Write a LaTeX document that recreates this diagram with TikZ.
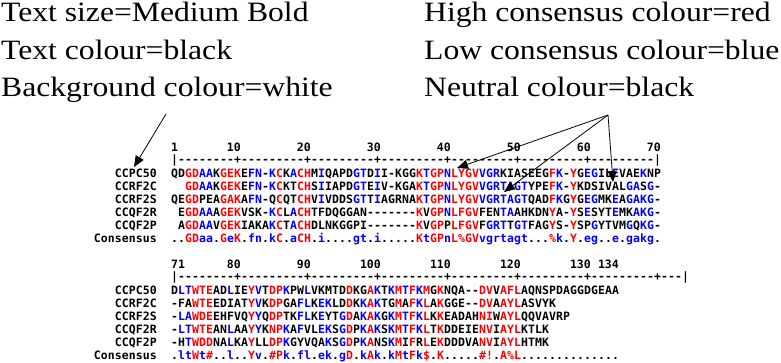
\documentclass[tikz,border=0pt]{standalone}
\usepackage{fontspec}
\usetikzlibrary{arrows.meta}
\newfontfamily\alnfont{DejaVu Sans Mono}
\newfontfamily\hdrfont{Liberation Serif}[FakeStretch=1.13]
\definecolor{alnred}{RGB}{255,0,0}
\definecolor{alnblue}{RGB}{0,0,255}
\ExplSyntaxOn
\dim_new:N \l_aln_w_dim
\dim_set:Nn \l_aln_w_dim {7pt}
\tl_new:N \l_aln_col_tl
\tl_new:N \l_aln_a_tl
\tl_new:N \l_aln_b_tl
\tl_new:N \l_aln_o_tl
\cs_new_protected:Npn \aln_setred: { \tl_set:Nn \l_aln_col_tl {alnred} }
\cs_new_protected:Npn \aln_char:nnn #1 #2 #3
  {
    \tl_set:Nn \l_aln_col_tl {black}
    \int_compare:nNnTF {`#1} = {`#2}
      { \aln_setred: }
      {
        \int_compare:nNnT {`#1 - 32} = {`#2}
          { \int_compare:nNnT {`#1} > {96} { \tl_set:Nn \l_aln_col_tl {alnblue} } }
      }
    \str_case:nn {#1}
      {
        {1} { \str_case:nn {#2} { {I}{\aln_setred:} {V}{\aln_setred:} } }
        {2} { \str_case:nn {#2} { {L}{\aln_setred:} {M}{\aln_setred:} } }
        {3} { \str_case:nn {#2} { {F}{\aln_setred:} {Y}{\aln_setred:} } }
        {4} { \str_case:nn {#2} { {N}{\aln_setred:} {D}{\aln_setred:} {Q}{\aln_setred:} {E}{\aln_setred:} {B}{\aln_setred:} {Z}{\aln_setred:} } }
      }
    \str_case:nn {#3}
      {
        {r} { \aln_setred: }
        {b} { \tl_set:Nn \l_aln_col_tl {alnblue} }
        {k} { \tl_set:Nn \l_aln_col_tl {black} }
      }
    \hbox_to_wd:nn \l_aln_w_dim
      { \hss \str_if_eq:nnF {#2}{_} { \color{\l_aln_col_tl} #2 } \hss }
  }
\cs_generate_variant:Nn \aln_char:nnn {VVV}
\cs_new_protected:Npn \aln_row:nnn #1 #2 #3
  {
    \int_step_inline:nn { \tl_count:n {#2} }
      {
        \tl_set:Nx \l_aln_a_tl { \tl_item:nn {#1} {##1} }
        \tl_set:Nx \l_aln_b_tl { \tl_item:nn {#2} {##1} }
        \tl_set:Nx \l_aln_o_tl { \tl_item:nn {#3} {##1} }
        \aln_char:VVV \l_aln_a_tl \l_aln_b_tl \l_aln_o_tl
      }
  }
\cs_new_protected:Npn \aln_conschar:n #1
  {
    \str_case:nnF {#1}
      {
        {1} { \color{alnred} ! }
        {2} { \color{alnred} \$ }
        {3} { \color{alnred} \% }
        {4} { \color{alnred} \# }
        {.} { . }
      }
      {
        \int_compare:nNnTF {`#1} > {96} { \color{alnblue} #1 } { \color{alnred} #1 }
      }
  }
\cs_new_protected:Npn \aln_cons:n #1
  { \tl_map_inline:nn {#1} { \hbox_to_wd:nn \l_aln_w_dim { \hss \aln_conschar:n {##1} \hss } } }
\cs_new_protected:Npn \aln_plain:n #1
  { \tl_map_inline:nn {#1} { \hbox_to_wd:nn \l_aln_w_dim { \hss ##1 \hss } } }
\NewDocumentCommand \alnrow { m m m } { \exp_args:No \aln_row:nnn {#1} {#2} {#3} }
\NewDocumentCommand \alncons { m } { \exp_args:No \aln_cons:n {#1} }
\NewDocumentCommand \alnplain { m } { \exp_args:No \aln_plain:n {#1} }
\ExplSyntaxOff
\def\consA{..GDaa.GeK.fn.kC.aCH.i....gt.i.....KtGPnL3GVvgrtagt...3k.Y.eg..e.gakg.}
\def\consB{.ltWt4..l..Yv.4Pk.fl.ek.gD.kAk.kMtFk2.K.....41.A3L..............}
\tikzset{
  hdr/.style={font=\hdrfont\fontsize{28}{30}\selectfont, inner sep=0pt, anchor=base west},
  seqtxt/.style={font=\alnfont\bfseries\fontsize{11.5}{13}\selectfont, inner sep=0pt},
  rulertxt/.style={seqtxt, text height=5pt, text depth=0pt},
  arr/.style={line width=0.8pt, -{Triangle[length=11pt,width=9pt]}},
}
\begin{document}
\begin{tikzpicture}[x=1pt,y=-1pt]
\useasboundingbox (0,0) rectangle (781,362);
% header texts
\node[hdr] (h1) at (1,21.7) {Text size=Medium Bold};
\node[hdr] (h2) at (1,59.3) {Text colour=black};
\node[hdr] (h3) at (1,96.7) {Background colour=white};
\node[hdr] (h4) at (424,21.7) {High consensus colour=red};
\node[hdr] (h5) at (424,59.3) {Low consensus colour=blue};
\node[hdr] (h6) at (424,96.7) {Neutral colour=black};
% block 1
\node[seqtxt, anchor=base west] (n1) at (171,151.7) {1};
\foreach \n in {10,20,...,70} \node[seqtxt, anchor=base east] (n\n) at ({171+7*\n},151.7) {\n};
\node[rulertxt, anchor=base west] (r1) at (171,163.3) {\alnplain{|--------+---------+---------+---------+---------+---------+---------|}};
\foreach \nm/\y in {CCPC50/177.3, CCRF2C/190.3, CCRF2S/203.3, CCQF2R/216.3, CCQF2P/229.3, Consensus/242.3}
  \node[seqtxt, anchor=base east] (a\nm) at (157,\y) {\alnplain{\nm}};
\node[seqtxt, anchor=base west] (s1a) at (171,177.3) {\alnrow{\consA}{QDGDAAKGEKEFN-KCKACHMIQAPDGTDII-KGGKTGPNLYGVVGRKIASEEGFK-YGEGILEVAEKNP}{........r}};
\node[seqtxt, anchor=base west] (s1b) at (171,190.3) {\alnrow{\consA}{__GDAAKGEKEFN-KCKTCHSIIAPDGTEIV-KGAKTGPNLYGVVGRTAGTYPEFK-YKDSIVALGASG-}{........r}};
\node[seqtxt, anchor=base west] (s1c) at (171,203.3) {\alnrow{\consA}{QEGDPEAGAKAFN-QCQTCHVIVDDSGTTIAGRNAKTGPNLYGVVGRTAGTQADFKGYGEGMKEAGAKG-}{........r}};
\node[seqtxt, anchor=base west] (s1d) at (171,216.3) {\alnrow{\consA}{_EGDAAAGEKVSK-KCLACHTFDQGGAN-------KVGPNLFGVFENTAAHKDNYA-YSESYTEMKAKG-}{........r}};
\node[seqtxt, anchor=base west] (s1e) at (171,229.3) {\alnrow{\consA}{_AGDAAVGEKIAKAKCTACHDLNKGGPI-------KVGPPLFGVFGRTTGTFAGYS-YSPGYTVMGQKG-}{........r}};
\node[seqtxt, anchor=base west] (s1f) at (171,242.3) {\alncons{\consA}};
% block 2
\node[seqtxt, anchor=base west] (n71) at (171,268.3) {71};
\foreach \n in {80,90,...,130} \node[seqtxt, anchor=base east] (n\n) at ({171+7*(\n-70)},268.3) {\n};
\node[seqtxt, anchor=base east] (n134) at (619,268.3) {134};
\node[rulertxt, anchor=base west] (r2) at (171,280.3) {\alnplain{|--------+---------+---------+---------+---------+---------+---------+---|}};
\foreach \nm/\y in {CCPC50/294, CCRF2C/307, CCRF2S/320, CCQF2R/333, CCQF2P/346, Consensus/359}
  \node[seqtxt, anchor=base east] (b\nm) at (157,\y) {\alnplain{\nm}};
\node[seqtxt, anchor=base west] (s2a) at (171,294) {\alnrow{\consB}{DLTWTEADLIEYVTDPKPWLVKMTDDKGAKTKMTFKMGKNQA--DVVAFLAQNSPDAGGDGEAA}{....r}};
\node[seqtxt, anchor=base west] (s2b) at (171,307) {\alnrow{\consB}{-FAWTEEDIATYVKDPGAFLKEKLDDKKAKTGMAFKLAKGGE--DVAAYLASVYK}{....r}};
\node[seqtxt, anchor=base west] (s2c) at (171,320) {\alnrow{\consB}{-LAWDEEHFVQYYQDPTKFLKEYTGDAKAKGKMTFKLKKEADAHNIWAYLQQVAVRP}{..b.r.......b}};
\node[seqtxt, anchor=base west] (s2d) at (171,333) {\alnrow{\consB}{-LTWTEANLAAYYKNPKAFVLEKSGDPKAKSKMTFKLTKDDEIENVIAYLKTLK}{....r.......b}};
\node[seqtxt, anchor=base west] (s2e) at (171,346) {\alnrow{\consB}{-HTWDDNALKAYLLDPKGYVQAKSGDPKANSKMIFRLEKDDDVANVIAYLHTMK}{....r}};
\node[seqtxt, anchor=base west] (s2f) at (171,359) {\alncons{\consB}};
% arrows
\coordinate (bgtail) at (166,114);
\coordinate (tipA) at (134,167);
\coordinate (apx) at (608,115);
\coordinate (tip1) at (457,168);
\coordinate (tip2) at (504,192);
\coordinate (tip3) at (613,182);
\draw[arr] (bgtail) -- (tipA);
\draw[arr] (apx) -- (tip1);
\draw[arr] (apx) -- (tip2);
\draw[arr] (apx) -- (tip3);
\end{tikzpicture}
\end{document}
